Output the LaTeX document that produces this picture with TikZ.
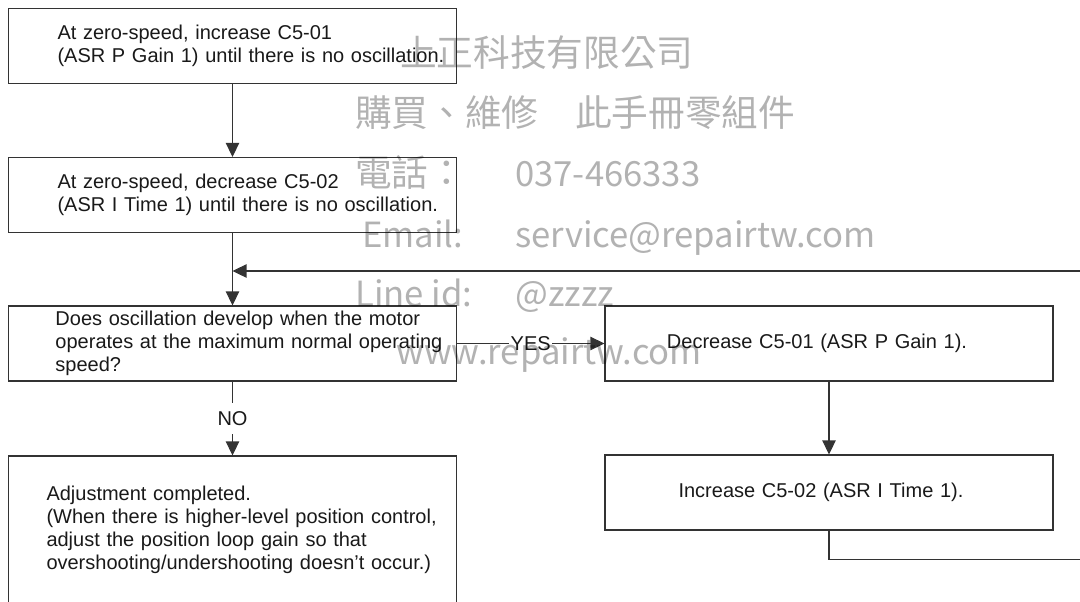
\documentclass[tikz,border=0pt]{standalone}
\usepackage{fontspec}
\setmainfont{Liberation Sans}
\newfontfamily\wmfont{Noto Sans CJK TC}
\usetikzlibrary{arrows.meta}
\begin{document}
\begin{tikzpicture}[x=0.75pt, y=-0.75pt,
  font=\fontsize{15}{17.25}\selectfont, text=black!90,
  stepbox/.style={draw=black!80, line width=0.8pt, text width=336pt, minimum height=56.25pt, inner sep=0pt, align=left},
  inset/.style={execute at begin node={\leftskip=#1\rightskip=0pt plus 1fil minus 40pt}},
  lean/.style={execute at begin node={\leftskip=0pt plus 1fil\rightskip=#1 plus 1fil\parfillskip=0pt}},
  flow/.style={draw=black!80, line width=0.8pt, -{Triangle[length=10.5pt, width=10pt]}},
  answer/.style={fill=white, inner xsep=1pt, inner ysep=6pt},
  wm/.style={font=\wmfont\fontsize{27.5}{30}\selectfont, text=black, text opacity=0.3, anchor=base west, inner sep=0pt},
  wmlatin/.style={wm, font=\wmfont\fontsize{26}{30}\selectfont}]
\useasboundingbox (0,0) rectangle (1080,601);
\clip (0,0) rectangle (1080,601);
\node[stepbox, inset=36.75pt] (inc1) at (232.5,46) {At zero-speed, increase C5-01\\(ASR P Gain 1) until there is no oscillation.};
\node[stepbox, inset=36.75pt] (dec2) at (232.5,195) {At zero-speed, decrease C5-02\\(ASR I Time 1) until there is no oscillation.};
\node[stepbox, inset=35.25pt] (osc) at (232.5,343.5) {Does oscillation develop when the motor\\operates at the maximum normal operating\\speed?};
\node[stepbox, inset=28.5pt, minimum height=110.25pt] (done) at (232.5,529.5) {Adjustment completed.\\(When there is higher-level position control,\\adjust the position loop gain so that\\overshooting/undershooting doesn't occur.)};
\node[stepbox, lean=18pt] (decp) at (829,343.5) {Decrease C5-01 (ASR P Gain 1).};
\node[stepbox, lean=12pt] (inci) at (829,492.5) {Increase C5-02 (ASR I Time 1).};
\coordinate (merge) at (232.5,271);
\draw[flow] (inc1) -- (dec2);
\draw[flow] (dec2) -- (osc);
\draw[flow] (osc) -- node[answer] {NO} (done);
\draw[flow] (osc) -- node[answer] {YES} (decp);
\draw[flow] (decp) -- (inci);
\draw[flow] (inci.south) -- ++(0,29) -- ++(300,0) |- (merge);
\node[wm] (wm1) at (400,66) {上正科技有限公司};
\node[wm] (wm2) at (355,126) {購買、維修　此手冊零組件};
\node[wm] (wm3) at (355,186) {電話：};
\node[wmlatin] (wm4) at (515,186) {037-466333};
\node[wmlatin] (wm5) at (362,247) {Email:};
\node[wmlatin] (wm6) at (515,247) {service@repairtw.com};
\node[wmlatin] (wm7) at (355,306) {Line id:};
\node[wmlatin] (wm8) at (515,306) {@zzzz};
\node[wmlatin] (wm9) at (396,364) {www.repairtw.com};
\end{tikzpicture}
\end{document}
